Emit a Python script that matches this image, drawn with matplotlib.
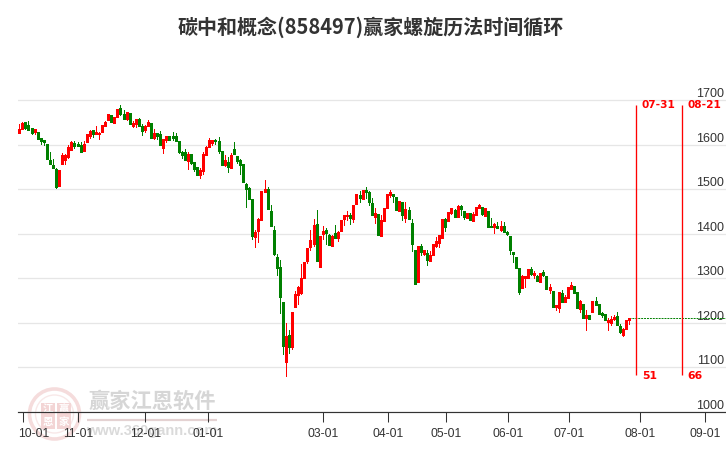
import numpy as np
import matplotlib
matplotlib.use("Agg")
import matplotlib.pyplot as plt
from matplotlib.patches import Circle, Rectangle
from matplotlib.transforms import ScaledTranslation

opens = [1626,1635,1651,1644,1637,1629,1628,1615,1610,1601,1565,1554,1545,1507,1556,1565,1572,1588,1604,1601,
 1599,1586,1606,1619,1633,1624,1624,1628,1642,1655,1666,1648,1662,1682,1669,1657,1671,1642,1646,1657,
 1642,1633,1642,1648,1615,1626,1624,1592,1610,1619,1619,1619,1608,1583,1583,1563,1579,1561,1550,1532,
 1541,1577,1595,1604,1610,1608,1586,1554,1561,1548,1590,1574,1565,
 1557,1512,1503,1478,1393,1406,1431,1494,1501,1451,1409,1348,1326,1247,1113,1173,1146,1236,1263,1267,
 1301,1339,1370,1377,1422,1326,1400,1409,1397,1373,1402,1391,1406,1433,1440,1442,1433,1467,1487,1478,
 1498,1494,1469,1438,1444,1395,1429,1458,1487,1489,1483,1451,1471,1435,1453,1424,1364,1292,1373,1355,
 1357,1339,1353,1373,1379,1391,1433,1429,1447,1453,1438,1462,1451,1435,
 1447,1429,1442,1458,1460,1440,1451,1417,1415,1417,1409,1417,1404,1395,1359,1348,1323,1279,1301,1301,
 1321,1308,1305,1292,1314,1305,1274,1272,1236,1234,1267,1247,1256,1276,1283,1270,1231,1243,1211,1218,
 1225,1249,1243,1222,1220,1202,1200,1209,1216,1193,1173,1187,1207]
closes = [1635,1648,1638,1633,1626,1635,1613,1608,1606,1568,1556,1548,1505,1543,1577,1577,1595,1606,1597,1597,
 1583,1601,1624,1630,1624,1628,1627,1644,1651,1669,1651,1662,1680,1669,1657,1673,1646,1648,1657,1642,
 1630,1642,1651,1615,1626,1619,1599,1613,1619,1610,1615,1608,1583,1577,1565,1579,1559,1545,1532,1543,
 1579,1595,1610,1610,1608,1586,1554,1565,1550,1577,1579,1563,1554,
 1516,1501,1478,1395,1404,1433,1496,1501,1456,1417,1355,1323,1258,1149,1171,1146,1225,1265,1281,1301,
 1337,1368,1386,1420,1339,1395,1406,1402,1375,1395,1391,1404,1431,1442,1442,1435,1465,1489,1480,1498,
 1494,1471,1442,1447,1397,1431,1458,1489,1494,1485,1453,1474,1442,1456,1433,1377,1288,1373,1359,1364,
 1341,1353,1377,1384,1397,1433,1415,1449,1458,1438,1462,1456,1438,1447,
 1431,1444,1460,1465,1444,1458,1415,1415,1422,1413,1417,1404,1400,1364,1355,1323,1270,1305,1305,1321,
 1310,1312,1294,1312,1308,1276,1281,1236,1240,1270,1247,1258,1281,1285,1267,1234,1249,1211,1218,1209,
 1249,1240,1220,1218,1207,1207,1209,1214,1196,1180,1187,1207,1211]
highs = [1646,1651,1651,1653,1637,1635,1628,1615,1610,1601,1583,1568,1547,1543,1581,1579,1599,1608,1608,1606,
 1606,1608,1624,1633,1633,1642,1628,1644,1653,1669,1666,1662,1680,1689,1678,1673,1671,1653,1657,1660,
 1646,1644,1655,1648,1635,1626,1630,1613,1619,1619,1628,1626,1608,1586,1590,1583,1579,1561,1550,1548,
 1583,1597,1615,1610,1613,1617,1586,1577,1572,1581,1606,1574,1568,
 1557,1514,1505,1478,1409,1435,1496,1521,1505,1465,1417,1355,1341,1247,1200,1184,1225,1272,1283,1332,
 1337,1368,1409,1433,1453,1395,1417,1413,1400,1397,1420,1406,1431,1442,1451,1447,1465,1489,1496,1498,
 1505,1496,1480,1458,1444,1442,1458,1489,1498,1489,1483,1474,1471,1471,1460,1433,1364,1373,1377,1364,
 1364,1361,1377,1393,1397,1433,1435,1449,1458,1456,1465,1465,1451,1447,
 1447,1449,1460,1467,1460,1458,1451,1435,1424,1427,1429,1427,1406,1395,1359,1348,1323,1308,1305,1321,
 1326,1317,1308,1312,1319,1305,1288,1272,1240,1270,1274,1263,1281,1292,1283,1270,1252,1243,1229,1218,
 1249,1258,1243,1225,1220,1211,1216,1218,1225,1198,1189,1207,1211]
lows = [1626,1635,1635,1633,1624,1624,1613,1601,1599,1568,1556,1548,1503,1507,1556,1556,1570,1588,1592,1597,
 1583,1586,1606,1615,1617,1624,1613,1628,1642,1655,1651,1648,1662,1666,1657,1655,1646,1639,1639,1642,
 1621,1628,1642,1615,1613,1613,1599,1581,1606,1610,1610,1608,1581,1570,1565,1545,1556,1541,1532,1525,
 1534,1577,1595,1599,1601,1581,1554,1552,1539,1548,1579,1559,1534,
 1516,1460,1478,1388,1370,1382,1431,1494,1456,1417,1353,1308,1223,1131,1081,1133,1142,1236,1243,1265,
 1301,1335,1364,1373,1339,1326,1388,1377,1375,1373,1391,1384,1406,1420,1431,1422,1427,1467,1471,1478,
 1480,1465,1442,1424,1397,1395,1429,1458,1483,1471,1453,1451,1431,1427,1433,1361,1288,1292,1353,1353,
 1330,1339,1353,1370,1370,1391,1406,1429,1444,1438,1438,1442,1433,1435,
 1431,1429,1442,1458,1442,1440,1415,1415,1402,1413,1406,1404,1397,1355,1337,1323,1265,1279,1281,1301,
 1308,1301,1294,1292,1305,1276,1267,1236,1229,1225,1247,1247,1256,1276,1267,1234,1225,1211,1184,1209,
 1225,1240,1220,1214,1207,1184,1196,1207,1196,1178,1171,1187,1198]

date_labels = ["10-01","11-01","12-01","01-01","03-01","04-01","05-01","06-01","07-01","08-01","09-01"]
date_pos = [1.3,19.15,41.1,61.66,99.2,120.4,139.3,159.5,179.4,202.6,223.8]
price_ticks = [1000,1100,1200,1300,1400,1500,1600,1700]
cycle_pos = [201.3,216.3]
cycle_top = 1689
cycle_bottom = 1083
cycle_dates = ["07-31","08-21"]
cycle_counts = ["51","66"]
title = "碳中和概念(858497)赢家螺旋历法时间循环"

CJK = ["Noto Sans CJK SC","DejaVu Sans"]
LAT = ["Liberation Sans","DejaVu Sans"]
RED = "#ff0000"
GREEN = "#008000"
TXT = "#333333"

fig = plt.figure(figsize=(7.26,4.5),dpi=100,facecolor="white")

# Watermark layer (pixel coordinates)
wm = fig.add_axes([0,0,1,1],zorder=0)
wm.set_xlim(0,726); wm.set_ylim(450,0); wm.axis("off")
wm.add_patch(Circle((54.5,414),25,fc="none",ec="#f5dcdc",lw=2.6))
wm.add_patch(Circle((54.5,414),19,fc="none",ec="#f8e8e8",lw=1.0))
for (bx,by,ch) in [(41,403,"江"),(57,403,"赢"),(41,416,"恩"),(57,416,"家")]:
    wm.add_patch(Rectangle((bx,by),14,12.5,fc="#f3d5d5",ec="none"))
    wm.text(bx+7,by+6,ch,ha="center",va="center",fontsize=7.5,color="white",family=CJK,fontweight="bold")
wm.text(152,401,"赢家江恩软件",ha="center",va="center",fontsize=15.3,color="#d6d6d6",family=CJK,fontweight="bold")
wm.plot([87,217],[419.5,419.5],color="#e4d2d2",lw=1.6,solid_capstyle="butt")
wm.text(152,431.5,"www.360gann.com",ha="center",va="center",fontsize=10.5,color="#dadada",family=LAT,fontweight="bold")

ax = fig.add_axes([18/726,38/450,708/726,332/450],zorder=1)
ax.patch.set_alpha(0)
ax.set_xlim(-0.424,230.57)
ax.set_ylim(1000.5,1744.8)

o = np.array(opens,float); c = np.array(closes,float)
h = np.array(highs,float); l = np.array(lows,float)
idx = np.arange(len(o))
up = c >= o
colors = np.where(up,RED,GREEN)

ax.yaxis.grid(True,color="#e6e6e6",lw=0.9,zorder=1)
ax.set_axisbelow(True)
ax.vlines(idx,l,h,colors=colors,lw=0.72,antialiased=False,capstyle="butt",zorder=3)
ax.vlines(idx,np.minimum(o,c),np.maximum(o,c),colors=colors,lw=2.16,antialiased=False,capstyle="butt",zorder=3)

ax.plot([idx[-1],230.57],[c[-1],c[-1]],color=GREEN,lw=0.7,ls=(0,(2,1)),zorder=2)

for x,d,n in zip(cycle_pos,cycle_dates,cycle_counts):
    ax.vlines(x,cycle_bottom,cycle_top,colors=RED,lw=0.95,zorder=4)
    ax.annotate(d,(x,cycle_top),xytext=(4,0),textcoords="offset points",ha="left",va="center",
                color=RED,fontsize=7.6,fontweight="bold",family="DejaVu Sans")
    ax.annotate(n,(x,cycle_bottom),xytext=(4,-1),textcoords="offset points",ha="left",va="center",
                color=RED,fontsize=7.8,fontweight="bold",family="DejaVu Sans")

for s in ("left","right","top"):
    ax.spines[s].set_visible(False)
ax.spines["bottom"].set_color(TXT); ax.spines["bottom"].set_linewidth(0.85)

ax.set_xticks(date_pos); ax.set_xticklabels(date_labels)
ax.tick_params(axis="x",length=7.2,width=0.75,color=TXT,labelcolor=TXT,pad=4.5,labelsize=8.7)
for t in ax.get_xticklabels():
    t.set_family(LAT)
lab0 = ax.get_xticklabels()[0]
lab0.set_transform(lab0.get_transform()+ScaledTranslation(10/100,0,fig.dpi_scale_trans))

ax.yaxis.tick_right()
ax.set_yticks(price_ticks); ax.set_yticklabels([str(v) for v in price_ticks])
ax.tick_params(axis="y",length=0,pad=-1.5,labelcolor=TXT,labelsize=9)
for t in ax.get_yticklabels():
    t.set_family(LAT); t.set_ha("right"); t.set_va("bottom")

fig.text(371/726,1-27.5/450,title,ha="center",va="center",fontsize=14.4,fontweight="bold",color=TXT,family=CJK)

fig.savefig("out.png",dpi=100)
